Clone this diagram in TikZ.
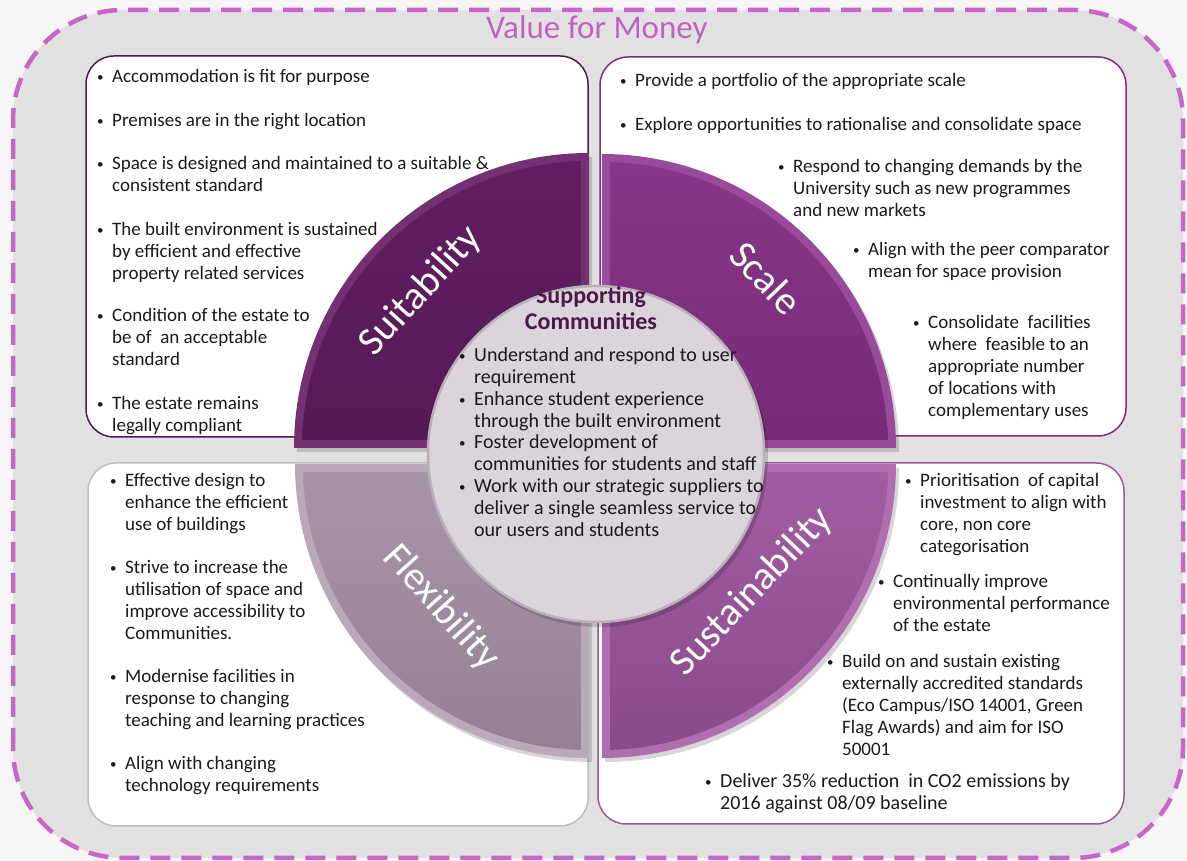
\documentclass[tikz,border=0pt]{standalone}
\usepackage{fontspec}
\setmainfont{Carlito}
\definecolor{bgout}{HTML}{F6F6F6}
\definecolor{bgin}{HTML}{E1E1E1}
\definecolor{dashc}{HTML}{C865C8}
\definecolor{titlec}{HTML}{C261C2}
\definecolor{ink}{HTML}{1A1A1A}
\definecolor{hubtxt}{HTML}{4B1A4B}
\definecolor{hubfill}{HTML}{DBD4DB}
\definecolor{hubline}{HTML}{B9B1B9}
% quadrant colours
\definecolor{suitE}{HTML}{733073}\definecolor{suitA}{HTML}{621E62}\definecolor{suitB}{HTML}{561A56}
\definecolor{scalE}{HTML}{9A4A9A}\definecolor{scalA}{HTML}{873787}\definecolor{scalB}{HTML}{772B77}
\definecolor{flexE}{HTML}{BBA8BB}\definecolor{flexA}{HTML}{A995A9}\definecolor{flexB}{HTML}{958095}
\definecolor{sustE}{HTML}{B06EB0}\definecolor{sustA}{HTML}{A15DA1}\definecolor{sustB}{HTML}{8A4B8A}
% box borders
\definecolor{bTL}{HTML}{4D1B4D}\definecolor{bTR}{HTML}{7A307A}
\definecolor{bBL}{HTML}{BDBDBD}\definecolor{bBR}{HTML}{9A5A9A}
\newcommand{\itm}[1]{\makebox[15pt][l]{\raisebox{1pt}{\fontsize{13}{13}\selectfont •}}\begin{tabular}[t]{@{}l@{}}#1\end{tabular}}
\tikzset{
  txt/.style={anchor=base west, inner sep=0pt, text=ink, font=\fontsize{19}{22}\selectfont},
  hubt/.style={txt, font=\fontsize{20}{22}\selectfont},
  lbl/.style={text=white, inner sep=0pt, font=\fontsize{40}{42}\selectfont},
  boxc/.style={fill=white, line width=1.5pt, rounded corners=28pt},
  shad/.style={fill=black, opacity=0.16},
}
\begin{document}
\begin{tikzpicture}[x=1pt,y=1pt]
\useasboundingbox (0,0) rectangle (1187,861);
\fill[bgout] (0,0) rectangle (1187,861);
% outer value-for-money frame
\fill[bgin, rounded corners=110pt] (13,3) rectangle (1183,851);
\draw[dashc, line width=4.5pt, dash pattern=on 20pt off 11pt, rounded corners=110pt] (13,3) rectangle (1183,851);
\node[text=titlec, font=\fontsize{33}{35}\selectfont, inner sep=0pt] (title) at (597,831) {Value for Money};
% boxes
\draw[boxc, draw=bTL] (86,805) rectangle (588,424);
\draw[boxc, draw=bTR] (600,804) rectangle (1126,425);
\draw[boxc, draw=bBL] (88,398) rectangle (588,35);
\draw[boxc, draw=bBR] (598,398) rectangle (1124,37);
% shadows of quadrants
\begin{scope}[shift={(3,-4)}]
\fill[shad] (589,413) -- (294,413) arc[start angle=180, end angle=90, radius=295] -- cycle;
\fill[shad] (602,413) -- (602,707) arc[start angle=90, end angle=0, radius=294] -- cycle;
\fill[shad] (589,397) -- (295,397) arc[start angle=180, end angle=270, radius=294] -- cycle;
\fill[shad] (602,397) -- (896,397) arc[start angle=0, end angle=-90, radius=294] -- cycle;
\end{scope}
% Suitability
\fill[suitE] (589,413) -- (294,413) arc[start angle=180, end angle=90, radius=295] -- cycle;
\shade[top color=suitA, bottom color=suitB] (581,421) -- (302.1,421) arc[start angle=178.4, end angle=91.6, radius=287] -- cycle;
% Scale
\fill[scalE] (602,413) -- (602,707) arc[start angle=90, end angle=0, radius=294] -- cycle;
\shade[top color=scalA, bottom color=scalB] (610,421) -- (610,698.9) arc[start angle=88.4, end angle=1.6, radius=286] -- cycle;
% Flexibility
\fill[flexE] (589,397) -- (295,397) arc[start angle=180, end angle=270, radius=294] -- cycle;
\shade[top color=flexA, bottom color=flexB] (581,389) -- (303.1,389) arc[start angle=181.6, end angle=268.4, radius=286] -- cycle;
% Sustainability
\fill[sustE] (602,397) -- (896,397) arc[start angle=0, end angle=-90, radius=294] -- cycle;
\shade[top color=sustA, bottom color=sustB] (610,389) -- (887.9,389) arc[start angle=-1.6, end angle=-88.4, radius=286] -- cycle;
% quadrant labels
\node[lbl, rotate=47.5] (lsuit) at (421,570) {Suitability};
\node[lbl, rotate=-46] (lscale) at (766,583) {Scale};
\node[lbl, rotate=-48] (lflex) at (441,253) {Flexibility};
\node[lbl, rotate=46.5] (lsust) at (752,269) {Sustainability};
% hub
\fill[shad] (599,403) circle[radius=169];
\node[circle, minimum size=336pt, inner sep=0pt, fill=hubfill, draw=hubline, line width=2.5pt] (hub) at (596,407) {};
\node[anchor=base, inner sep=0pt, text=hubtxt, font=\bfseries\fontsize{24}{26}\selectfont] (hubtitle) at (591,557)
  {\begin{tabular}[t]{@{}c@{}}Supporting\\Communities\end{tabular}};
\node[hubt] (h1) at (459,499) {\itm{Understand and respond to user\\requirement}};
\node[hubt] (h2) at (459,455) {\itm{Enhance student experience\\through the built environment}};
\node[hubt] (h3) at (459,412) {\itm{Foster development of\\communities for students and staff}};
\node[hubt] (h4) at (459,368) {\itm{Work with our strategic suppliers to\\deliver a single seamless service to\\our users and students}};
% top-left box
\node[txt] (a1) at (97,778) {\itm{Accommodation is fit for purpose}};
\node[txt] (a2) at (97,734) {\itm{Premises are in the right location}};
\node[txt] (a3) at (97,691) {\itm{Space is designed and maintained to a suitable \&\\consistent standard}};
\node[txt] (a4) at (97,625) {\itm{The built environment is sustained\\by efficient and effective\\property related services}};
\node[txt] (a5) at (97,539) {\itm{Condition of the estate to\\be of\ \ an acceptable\\standard}};
\node[txt] (a6) at (97,451) {\itm{The estate remains\\legally compliant}};
% top-right box
\node[txt] (b1) at (620,774) {\itm{Provide a portfolio of the appropriate scale}};
\node[txt] (b2) at (620,730) {\itm{Explore opportunities to rationalise and consolidate space}};
\node[txt] (b3) at (778,688) {\itm{Respond to changing demands by the\\University such as new programmes\\and new markets}};
\node[txt] (b4) at (853,605) {\itm{Align with the peer comparator\\mean for space provision}};
\node[txt] (b5) at (913,532) {\itm{Consolidate\ \ facilities\\where\ \ feasible to an\\appropriate number\\of locations with\\complementary uses}};
% bottom-left box
\node[txt] (c1) at (110,374) {\itm{Effective design to\\enhance the efficient\\use of buildings}};
\node[txt] (c2) at (110,287) {\itm{Strive to increase the\\utilisation of space and\\improve accessibility to\\Communities.}};
\node[txt] (c3) at (110,178) {\itm{Modernise facilities in\\response to changing\\teaching and learning practices}};
\node[txt] (c4) at (110,91) {\itm{Align with changing\\technology requirements}};
% bottom-right box
\node[txt] (d1) at (905,374) {\itm{Prioritisation\ \ of capital\\investment to align with\\core, non core\\categorisation}};
\node[txt] (d2) at (878,273) {\itm{Continually improve\\environmental performance\\of the estate}};
\node[txt] (d3) at (827,193) {\itm{Build on and sustain existing\\externally accredited standards\\(Eco Campus/ISO 14001, Green\\Flag Awards) and aim for ISO\\50001}};
\node[txt, font=\fontsize{20}{22}\selectfont] (d4) at (705,73) {\itm{Deliver 35\% reduction\ \ in CO2 emissions by\\2016 against 08/09 baseline}};
\end{tikzpicture}
\end{document}
